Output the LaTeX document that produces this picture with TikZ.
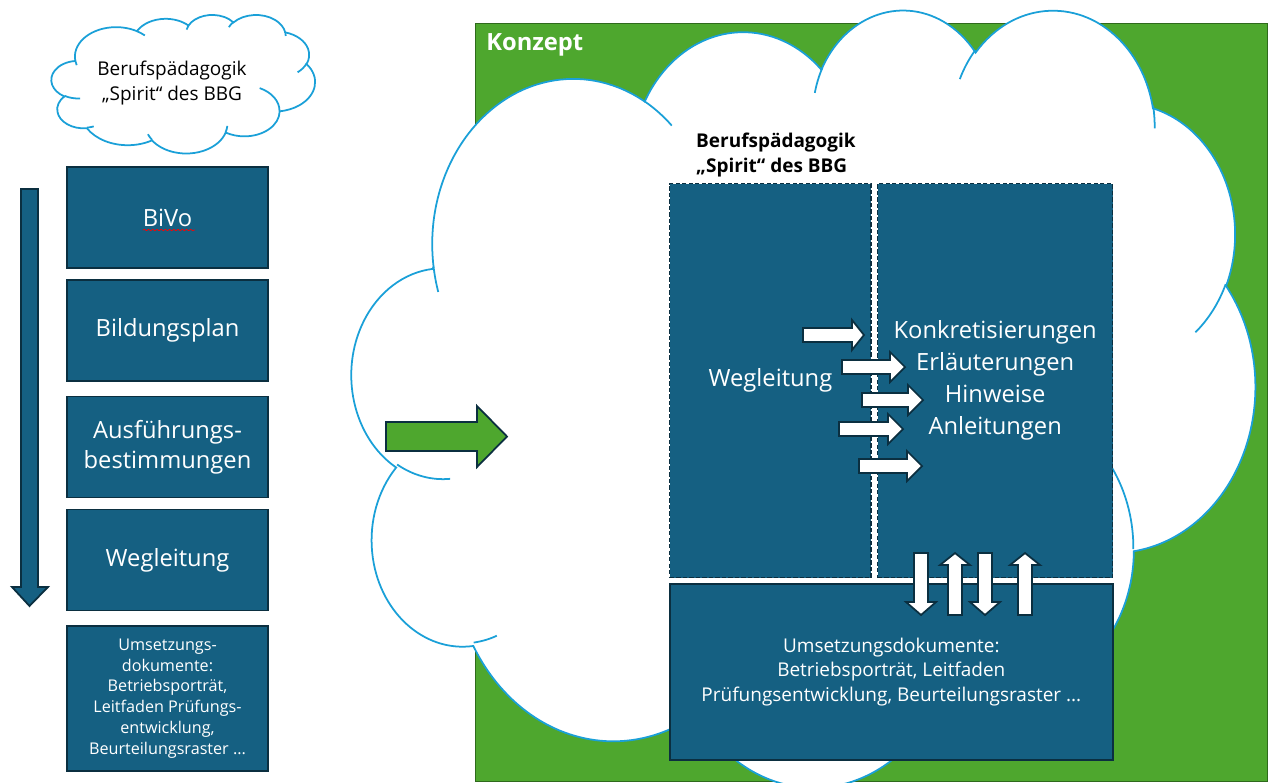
\documentclass[tikz,border=0pt]{standalone}
\usepackage{fontspec}
\setmainfont{Open Sans}
\usepackage{tikz}
\usetikzlibrary{decorations.pathmorphing}

\definecolor{boxblue}{HTML}{156082}
\definecolor{boxline}{HTML}{0B2F40}
\definecolor{cloudblue}{HTML}{1AA0D8}
\definecolor{konzeptgreen}{HTML}{4EA72E}
\definecolor{greenline}{HTML}{2F6A1C}

\tikzset{
  declare function={cloudt(\a,\b,\t)=atan2(\a*sin(\t),\b*cos(\t));},
  stepbox/.style={draw=boxline, fill=boxblue, text=white, line width=1pt, minimum width=4.02cm, minimum height=2.02cm, align=center, font=\fontsize{13.5}{17}\selectfont},
  dashbox/.style={draw=boxline, fill=boxblue, text=white, line width=0.8pt, dash pattern=on 2.5pt off 1.2pt, anchor=north west, align=center},
  blockarrow/.style={draw=boxline, fill=white, line width=1pt, line join=miter},
  cloudedge/.style={draw=cloudblue, line width=1pt}
}

\newcommand{\drawcloud}[4]{%
  \begin{scope}[shift={(#1,#2)}, xscale=#3/43.2, yscale=#4/43.2]
  \filldraw[cloudedge, fill=white] (3.9,14.37) foreach \wr/\hr/\st/\sw in {%
      6.753/9.19/-190.4875/123.7805, 5.333/7.267/-144.1024/89.9452,
      4.365/5.945/-145.8079/99.723, 4.857/6.595/-130.9861/117.2417,
      5.333/7.273/-78.7089/109.0269, 6.775/9.22/-46.2673/130.269,
      5.785/7.867/0.625/114.0333, 6.752/9.215/22.4516/115.1726,
      7.72/10.543/66.2426/75.711, 4.36/5.918/-274.9421/146.7356,
      4.345/5.945/-246.8285/152.5189}
    {arc[start angle={cloudt(\wr,\hr,\st)}, delta angle={Mod(cloudt(\wr,\hr,\st+\sw)-cloudt(\wr,\hr,\st),360)}, x radius=\wr, y radius=\hr]} -- cycle;
  \foreach \hx/\hy/\wr/\hr/\st/\sw in {%
      4.693/26.177/4.345/5.945/86.742/26.43, 6.928/34.899/4.36/5.918/73.6105/11.4475,
      16.478/39.09/6.752/9.215/137.6242/14.0811, 28.827/34.751/6.752/9.215/6.4533/15.9984,
      34.129/22.954/5.785/7.867/-70.2924/70.9174, 41.798/15.354/5.333/7.273/30.318/27.7515,
      38.324/5.426/4.857/6.595/-13.7443/14.8589, 29.078/3.952/4.857/6.595/-149.1815/18.1954,
      22.141/4.72/4.365/5.945/-163.4943/17.6864, 14/5.192/6.753/9.19/-66.707/12.3194,
      4.127/15.789/6.753/9.19/157.6544/11.8582}
    \draw[cloudedge] (\hx,\hy) arc[start angle={cloudt(\wr,\hr,\st)}, delta angle={Mod(cloudt(\wr,\hr,\st+\sw)-cloudt(\wr,\hr,\st),360)}, x radius=\wr, y radius=\hr];
  \end{scope}}

\begin{document}
\begin{tikzpicture}[x=0.02cm, y=-0.02cm]
\clip (0,0) rectangle (1270,782);
\fill[white] (0,0) rectangle (1270,782);

\drawcloud{51.5}{14.5}{263.5}{138.5}
\node[align=center, font=\fontsize{10.8}{14.2}\selectfont] (spirit) at (172,83) {Berufspädagogik\\„Spirit“ des BBG};

\node[stepbox] (bivo) at (167.5,217.5) {BiVo};
\draw[red, decorate, decoration={snake, amplitude=0.35pt, segment length=2.4pt}] (143,230) -- (195,230);
\node[stepbox] (bildungsplan) at (167.5,330.5) {Bildungsplan};
\node[stepbox] (ausfuehrung) at (167.5,447) {Ausführungs-\\bestimmungen};
\node[stepbox] (wegleitung) at (167.5,560) {Wegleitung};
\node[stepbox, minimum height=2.9cm, font=\fontsize{9.2}{11.8}\selectfont] (umsetzung) at (167.5,698.5) {Umsetzungs-\\dokumente:\\Betriebsporträt,\\Leitfaden Prüfungs-\\entwicklung,\\Beurteilungsraster ...};
\draw[draw=boxline, fill=boxblue, line width=1pt, line join=miter] (21,189) -- (38,189) -- (38,587) -- (48,587) -- (29.5,606) -- (12,587) -- (21,587) -- cycle;

\node[draw=greenline, fill=konzeptgreen, line width=0.8pt, minimum width=15.84cm, minimum height=15.16cm, anchor=north west] (konzeptframe) at (475,23) {};
\node[text=white, font=\bfseries\fontsize{13.5}{16}\selectfont, anchor=west, inner sep=0pt] (konzept) at (486,45) {Konzept};

\drawcloud{352}{8}{903}{777}

\draw[draw=boxline, fill=konzeptgreen, line width=1pt, line join=miter] (386,422) -- (477,422) -- (477,406) -- (507,436.5) -- (477,467) -- (477,451) -- (386,451) -- cycle;

\node[align=left, anchor=west, font=\bfseries\fontsize{10.8}{14}\selectfont] (spiritbold) at (690,155) {Berufspädagogik\\„Spirit“ des BBG};

\node[dashbox, minimum width=4.03cm, minimum height=7.88cm, font=\fontsize{13.5}{17}\selectfont] (wegbox) at (669,183) {Wegleitung};
\node[dashbox, minimum width=4.7cm, minimum height=7.88cm, font=\fontsize{13.5}{18.2}\selectfont] (hinweisbox) at (877,183) {Konkretisierungen\\Erläuterungen\\Hinweise\\Anleitungen};
\node[dashbox, solid, line width=1pt, minimum width=8.86cm, minimum height=3.52cm, font=\fontsize{10.8}{14}\selectfont] (dokbox) at (669,583) {Umsetzungsdokumente:\\Betriebsporträt, Leitfaden\\Prüfungsentwicklung, Beurteilungsraster ...};

\foreach \xa/\xb/\xc/\yc in {803/852/864/335, 842/890/905/367, 862/908/923/400, 839/888/903/429, 859/907/922/466}
  \draw[blockarrow] (\xa,\yc-7) -- (\xb,\yc-7) -- (\xb,\yc-15) -- (\xc,\yc) -- (\xb,\yc+15) -- (\xb,\yc+7) -- (\xa,\yc+7) -- cycle;

\foreach \xc/\ya/\yb/\yt in {921/553/602/615, 955/615/565/553, 985/553/602/615, 1025/615/565/553}
  \draw[blockarrow] (\xc-7,\ya) -- (\xc+7,\ya) -- (\xc+7,\yb) -- (\xc+15,\yb) -- (\xc,\yt) -- (\xc-15,\yb) -- (\xc-7,\yb) -- cycle;
\end{tikzpicture}
\end{document}
